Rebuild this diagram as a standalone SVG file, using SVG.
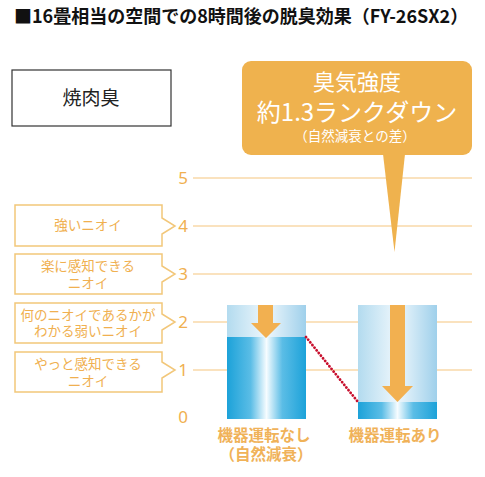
<svg xmlns="http://www.w3.org/2000/svg" width="485" height="477" viewBox="0 0 485 477">
<style>
.t{font-family:"Noto Sans CJK JP","Noto Sans",sans-serif}
.ttl{font-size:18px;font-weight:bold;fill:#111}
.lbl{font-size:13.5px;fill:#f0b050;text-anchor:middle}
.num{font-size:17px;fill:#f0b050;text-anchor:middle;font-family:"Noto Sans",sans-serif}
.grid{stroke:#f8d8a8;stroke-width:1.5}
.box{fill:#fff;stroke:#f2c77a;stroke-width:1.5}
.cw{fill:#fff;text-anchor:middle}
.bl{font-size:15.5px;font-weight:bold;fill:#f0b259;text-anchor:middle}
.arr{fill:#f2b050}
</style>
<defs>
<linearGradient id="light" x1="0" y1="0" x2="1" y2="0">
<stop offset="0" stop-color="#b3dbef"/>
<stop offset="0.5" stop-color="#eef7fc"/>
<stop offset="1" stop-color="#9fd0eb"/>
</linearGradient>
<linearGradient id="dark" x1="0" y1="0" x2="1" y2="0">
<stop offset="0" stop-color="#1ca2d9"/>
<stop offset="0.3" stop-color="#5bbde6"/>
<stop offset="0.5" stop-color="#f6fcff"/>
<stop offset="0.7" stop-color="#5bbde6"/>
<stop offset="1" stop-color="#1ca2d9"/>
</linearGradient>
</defs>
<rect width="485" height="477" fill="#fff"/>
<text class="t ttl" x="14" y="23">■16畳相当の空間での8時間後の脱臭効果（FY-26SX2）</text>

<g id="odor-title">
<rect x="12" y="70" width="159" height="56" fill="#fff" stroke="#333" stroke-width="1.2"/>
<text class="t" x="91" y="105" font-size="19" fill="#222" text-anchor="middle">焼肉臭</text>
</g>

<g id="grid">
<line class="grid" x1="193" y1="178" x2="472" y2="178"/>
<line class="grid" x1="193" y1="226" x2="472" y2="226"/>
<line class="grid" x1="193" y1="274" x2="472" y2="274"/>
<line class="grid" x1="193" y1="322" x2="472" y2="322"/>
<line class="grid" x1="193" y1="370" x2="472" y2="370"/>
<text class="num" x="183" y="184">5</text>
<text class="num" x="183" y="232">4</text>
<text class="num" x="183" y="280">3</text>
<text class="num" x="183" y="328">2</text>
<text class="num" x="183" y="376">1</text>
<text class="num" x="183" y="423">0</text>
</g>

<g id="level4">
<path class="box" d="M15 205H162V218L175 226L162 234V246H15Z"/>
<text class="t lbl" x="88" y="230">強いニオイ</text>
</g>
<g id="level3">
<path class="box" d="M15 254H162V266L175 274L162 282V294H15Z"/>
<text class="t lbl" x="88" y="271">楽に感知できる</text>
<text class="t lbl" x="88" y="288">ニオイ</text>
</g>
<g id="level2">
<path class="box" d="M15 303H162V314L175 322L162 330V343H15Z"/>
<text class="t lbl" x="88" y="320">何のニオイであるかが</text>
<text class="t lbl" x="88" y="336">わかる弱いニオイ</text>
</g>
<g id="level1">
<path class="box" d="M15 352H162V362L175 370L162 378V392H15Z"/>
<text class="t lbl" x="88" y="369">やっと感知できる</text>
<text class="t lbl" x="88" y="386">ニオイ</text>
</g>

<g id="bar-natural">
<rect x="227" y="305" width="79" height="32" fill="url(#light)"/>
<rect x="227" y="337" width="79" height="82" fill="url(#dark)"/>
<path class="arr" d="M258 305H273V323H281L266 338L251 323H258Z"/>
<text class="t bl" x="264" y="441">機器運転なし</text>
<text class="t bl" x="266" y="460">（自然減衰）</text>
</g>

<g id="bar-device">
<rect x="358" y="305" width="79" height="97" fill="url(#light)"/>
<rect x="358" y="402" width="79" height="17" fill="url(#dark)"/>
<path class="arr" d="M390 305H405V386H413L397.5 402L382 386H390Z"/>
<text class="t bl" x="395" y="441">機器運転あり</text>
</g>

<g id="connectors">
<line x1="306" y1="337" x2="358" y2="402" stroke="#c8102e" stroke-width="2.8" stroke-dasharray="0.1 3.3" stroke-linecap="round"/>
</g>

<g id="callout">
<rect x="242" y="61" width="230" height="94" rx="9" fill="#efb24e"/>
<path d="M383 154H405L394.5 252Z" fill="#efb24e"/>
<text class="t cw" x="357" y="90" font-size="22">臭気強度</text>
<text class="t cw" x="357" y="121" font-size="24">約1.3ランクダウン</text>
<text class="t cw" x="355" y="141" font-size="13.5">（自然減衰との差）</text>
</g>
</svg>
